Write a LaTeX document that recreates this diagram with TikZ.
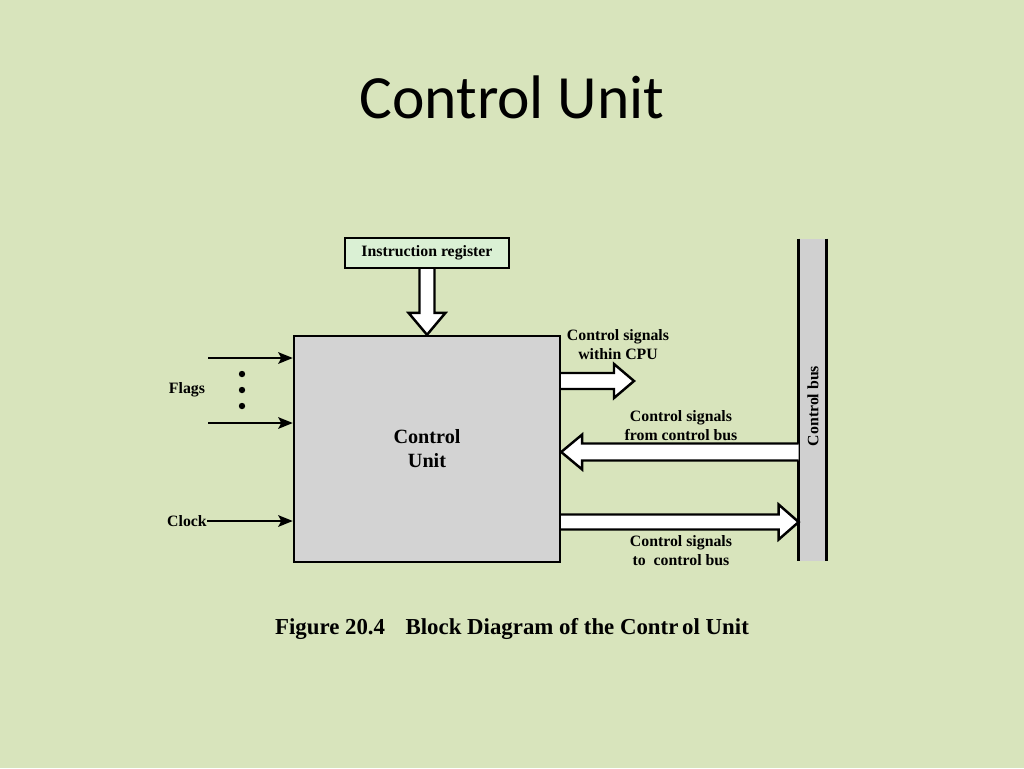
\documentclass[tikz,border=0pt]{standalone}
\usepackage{fontspec}
\setmainfont{Liberation Serif}
\newfontfamily\titlefont{Carlito}
\usetikzlibrary{calc,arrows.meta}
\definecolor{slidebg}{RGB}{216,228,188}
\definecolor{cugray}{RGB}{211,211,211}
\definecolor{busgray}{RGB}{208,208,208}
\definecolor{irgreen}{RGB}{218,240,212}
\begin{document}
\begin{tikzpicture}[
              x = 0.02cm, y = -0.02cm,
              every node/.style = {font = \bfseries\fontsize{9}{10.8}\selectfont, align = center, inner sep = 0pt},
              box/.style = {draw, line width = 1.4pt, minimum width = #1},
              hollow/.style = {draw, line width = 1.4pt, fill = white, line join = miter},
              sig/.style = {-{Stealth[length = 2.9mm, width = 2.3mm, inset = 0.6mm]}, line width = 1.3pt}
            ]
            \fill[slidebg] (0, 0) rectangle (1024, 768);
            \useasboundingbox (0, 0) rectangle (1024, 768);
            % title
            \node (title) at (512, 97) {\titlefont\mdseries\fontsize{35}{40}\selectfont Control Unit};
            % nodes
            \node[box = 3.28cm, fill = irgreen, minimum height = 0.6cm] (ir) at (427, 253) {Instruction register};
            \node[box = 5.32cm, fill = cugray, minimum height = 4.52cm, font = \bfseries\fontsize{11.5}{13.6}\selectfont] (cu) at (427, 449) {Control\\Unit};
            \node[fill = busgray, minimum width = 0.54cm, minimum height = 6.44cm] (bus) at (812.5, 400) {};
            \node[rotate = 90] (buslabel) at (813, 406) {Control bus};
            \node (flags) at (187, 390) {Flags};
            \node (clock) at (187, 521) {Clock};
            \node (lcpu)  at (618, 345) {Control signals\\within CPU};
            \node (lfrom) at (681, 426) {Control signals\\from control bus};
            \node (lto)   at (681, 551) {Control signals\\to\ \ control bus};
            \node (caption) at (512, 629) {\fontsize{13}{15}\selectfont Figure 20.4\hspace{0.9em}Block Diagram of the Contr\,ol Unit};
            \coordinate (f1)    at (208, 358);
            \coordinate (f2)    at (208, 423);
            \coordinate (cpu)   at (634, 381);
            \coordinate (fromb) at (0, 452);
            \coordinate (tob)   at (0, 522);
            % bus edges
            \draw[line width = 1.4pt] (bus.north west) -- (bus.south west);
            \draw[line width = 1.4pt] (bus.north east) -- (bus.south east);
            % flags and clock
            \draw[sig] (f1) -- (cu.west |- f1);
            \draw[sig] (f2) -- (cu.west |- f2);
            \foreach \y in {374, 390, 406}
              \fill (242, \y) circle (3.2);
            \draw[sig] (clock.east) -- (cu.west |- clock);
            % instruction register to control unit
            \draw[hollow] ($(ir.south) + (-7.5, 0)$) -- ($(cu.north) + (-7.5, -22)$) -- ($(cu.north) + (-18.5, -22)$)
              -- (cu.north) -- ($(cu.north) + (18.5, -22)$) -- ($(cu.north) + (7.5, -22)$) -- ($(ir.south) + (7.5, 0)$);
            % control signals within CPU
            \draw[hollow] ($(cu.east |- cpu) + (0, -8)$) -- ($(cpu) + (-20, -8)$) -- ($(cpu) + (-20, -17)$)
              -- (cpu) -- ($(cpu) + (-20, 17)$) -- ($(cpu) + (-20, 8)$) -- ($(cu.east |- cpu) + (0, 8)$);
            % control signals from control bus
            \draw[hollow] ($(bus.west |- fromb) + (0, -8.5)$) -- ($(cu.east |- fromb) + (21, -8.5)$) -- ($(cu.east |- fromb) + (21, -17.5)$)
              -- (cu.east |- fromb) -- ($(cu.east |- fromb) + (21, 17.5)$) -- ($(cu.east |- fromb) + (21, 8.5)$) -- ($(bus.west |- fromb) + (0, 8.5)$);
            % control signals to control bus
            \draw[hollow] ($(cu.east |- tob) + (0, -7.5)$) -- ($(bus.west |- tob) + (-20, -7.5)$) -- ($(bus.west |- tob) + (-20, -17.5)$)
              -- (bus.west |- tob) -- ($(bus.west |- tob) + (-20, 17.5)$) -- ($(bus.west |- tob) + (-20, 7.5)$) -- ($(cu.east |- tob) + (0, 7.5)$);
          \end{tikzpicture}
\end{document}
